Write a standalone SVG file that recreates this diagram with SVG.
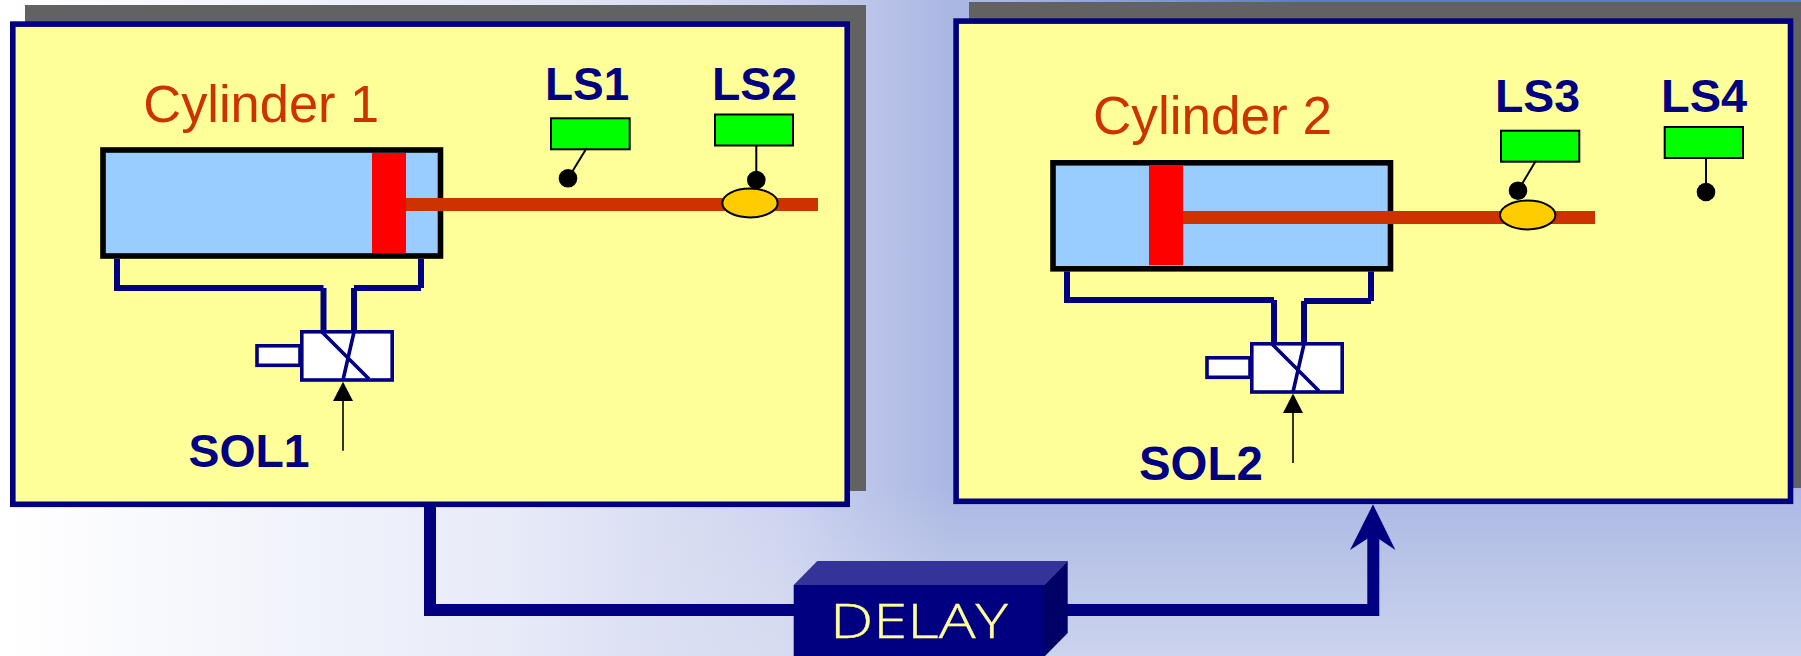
<svg xmlns="http://www.w3.org/2000/svg" width="1801" height="656" viewBox="0 0 1801 656">
<style>
.panel{fill:#ffff99;stroke:#000080;stroke-width:5.6}
.shadow{fill:#626262}
.cyl{fill:#99ccff;stroke:#000;stroke-width:5.6}
.piston{fill:#ff0000}
.rod{fill:#cc3300}
.pipe{fill:none;stroke:#000080;stroke-width:6}
.valve{fill:#fff;stroke:#000080;stroke-width:3.6}
.vline{fill:none;stroke:#000080;stroke-width:3.6}
.sig{fill:none;stroke:#000;stroke-width:1.6}
.sw{fill:#00ff00;stroke:#000;stroke-width:2}
.arm{fill:none;stroke:#000;stroke-width:2}
.cam{fill:#ffcc00;stroke:#000;stroke-width:2}
.lab{font-family:"Liberation Sans",Arial,sans-serif;font-weight:700;font-size:46.4px;fill:#000080}
.title{font-family:"Liberation Sans",Arial,sans-serif;font-size:52.4px;fill:#cc3300}
.delay{font-family:"Open Sans",sans-serif;font-weight:300;font-size:47px;fill:#ffff99;stroke:#ffff99;stroke-width:.4}
.flow{fill:none;stroke:#000080;stroke-width:12}
</style>
<defs>
<linearGradient id="h" gradientUnits="userSpaceOnUse" x1="0" y1="0" x2="950" y2="0"><stop offset="0" stop-color="#fff"/><stop offset="0.53" stop-color="#e8ebf8"/><stop offset="0.82" stop-color="#ced4ef"/><stop offset="0.91" stop-color="#bcc5ea"/><stop offset="1" stop-color="#aab7e3"/></linearGradient>
<linearGradient id="v" x1="0" y1="0" x2="0" y2="1"><stop offset="0" stop-color="#fff" stop-opacity="0"/><stop offset="1" stop-color="#fff" stop-opacity="0.4"/></linearGradient>
<linearGradient id="fade" gradientUnits="userSpaceOnUse" x1="600" y1="0" x2="950" y2="0"><stop offset="0" stop-color="#000"/><stop offset="1" stop-color="#fff"/></linearGradient>
<mask id="m" maskUnits="userSpaceOnUse" x="0" y="0" width="1801" height="656"><rect width="1801" height="656" fill="url(#fade)"/></mask>
<linearGradient id="t" x1="0" y1="0" x2="1" y2="0"><stop offset="0" stop-color="#5b7bcc" stop-opacity="0"/><stop offset="1" stop-color="#5b7bcc" stop-opacity="1"/></linearGradient>
</defs>
<g id="background">
<rect width="1801" height="656" fill="url(#h)"/>
<rect y="480" width="1801" height="176" fill="url(#v)" mask="url(#m)"/>
<rect x="1000" width="300" height="2" fill="url(#t)"/>
<rect x="1300" width="501" height="2" fill="#5b7bcc"/>
</g>
<g id="cylinder-1-panel">
<rect class="shadow" x="25" y="5" width="841" height="486"/>
<rect class="panel" x="12.8" y="24.1" width="834.4" height="480.2"/>
<text class="title" x="143.3" y="121.7">Cylinder 1</text>
</g>
<g id="cylinder-2-panel">
<rect class="shadow" x="969" y="2" width="832" height="486"/>
<rect class="panel" x="956.1" y="21.1" width="834.4" height="480.2"/>
<text class="title" x="1093" y="134" style="font-size:53.1px">Cylinder 2</text>
</g>
<g id="connectors">
<path class="pipe" d="M117 259V288H323.5M323.5 288V332M354 288V332M354 288H421M421 259V288"/>
<path class="pipe" d="M1067 271.5V300H1274M1274 300V344M1304 301V344M1304 301H1371M1371 271.5V301"/>
<path class="flow" d="M430 504V610H800"/>
<path class="flow" d="M1050 610H1373.3V530"/>
<path d="M1373 504.3L1395.4 550L1373 535L1350 550Z" fill="#000080"/>
</g>
<g id="cylinder-1">
<rect class="cyl" x="103" y="150" width="337.5" height="106"/>
<rect class="rod" x="406" y="198" width="412" height="13"/>
<rect class="piston" x="372" y="153" width="34" height="100"/>
</g>
<g id="cylinder-2">
<rect class="cyl" x="1053" y="162.8" width="337.5" height="106"/>
<rect class="rod" x="1183" y="211" width="412" height="13"/>
<rect class="piston" x="1149" y="165.7" width="34" height="99.5"/>
</g>
<g id="valve-1">
<rect class="valve" x="257" y="345.8" width="43" height="19.5"/>
<rect class="valve" x="301.8" y="331.8" width="90.4" height="48.2"/>
<path class="vline" d="M322 332L369 379M354 332L343 380"/>
<path d="M343 381.7L353 401H333Z"/>
<path class="sig" d="M343 400V450.7"/>
</g>
<g id="valve-2">
<rect class="valve" x="1207" y="357.8" width="43" height="19.5"/>
<rect class="valve" x="1251.8" y="343.8" width="90.4" height="48.2"/>
<path class="vline" d="M1272 344L1319 391M1304 344L1293 392"/>
<path d="M1293 393.5L1303 413H1283Z"/>
<path class="sig" d="M1293 412V463"/>
</g>
<g id="sol1"><text class="lab" x="188.5" y="467">SOL1</text></g>
<g id="sol2"><text class="lab" x="1139" y="480" style="font-size:47.4px">SOL2</text></g>
<g id="ls1">
<text class="lab" x="545" y="100" style="font-size:46px">LS1</text>
<rect class="sw" x="551" y="118.3" width="78.7" height="31"/>
<path class="arm" d="M586.7 148L572 172"/>
<circle cx="568" cy="178.3" r="9.3"/>
</g>
<g id="ls2">
<text class="lab" x="712" y="100">LS2</text>
<rect class="sw" x="715" y="114.5" width="78" height="31"/>
<path class="arm" d="M756.3 146V172"/>
<circle cx="756.3" cy="180" r="9.3"/>
<ellipse class="cam" cx="750" cy="203" rx="27.7" ry="14.4"/>
</g>
<g id="ls3">
<text class="lab" x="1495" y="112.3">LS3</text>
<rect class="sw" x="1501" y="130.7" width="78.3" height="31"/>
<path class="arm" d="M1536 160.5L1522 184"/>
<circle cx="1518" cy="190.7" r="9.3"/>
<ellipse class="cam" cx="1527.7" cy="215" rx="27.7" ry="14.4"/>
</g>
<g id="ls4">
<text class="lab" x="1661" y="112.3" style="font-size:47px">LS4</text>
<rect class="sw" x="1664.7" y="127" width="78.3" height="31"/>
<path class="arm" d="M1706 158V184"/>
<circle cx="1706" cy="192" r="9.3"/>
</g>
<g id="delay">
<path d="M793.7 585L817.3 561H1067.7L1044 585Z" fill="#333399"/>
<path d="M1044 585L1067.7 561V633L1045 656H1044Z" fill="#000066"/>
<rect x="793.7" y="585" width="250.3" height="71" fill="#000080"/>
<text class="delay" x="830" y="638" textLength="178" lengthAdjust="spacingAndGlyphs">DELAY</text>
</g>
</svg>
